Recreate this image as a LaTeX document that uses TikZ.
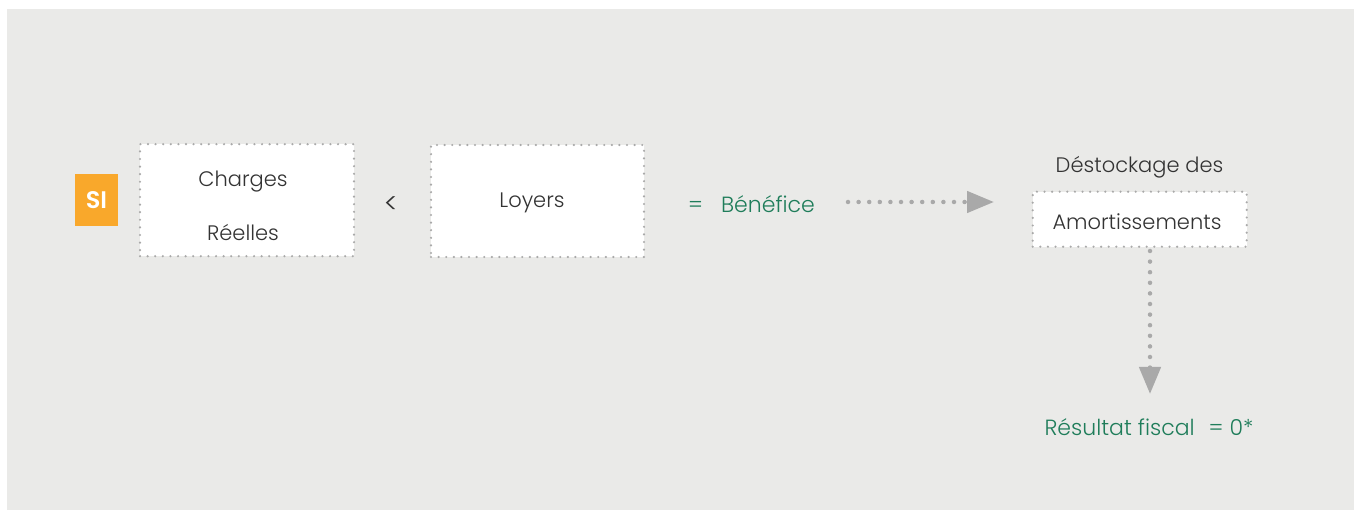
\documentclass[tikz,border=0pt]{standalone}
\usepackage{fontspec}
\setmainfont{Poppins Light}
\usetikzlibrary{arrows.meta}
\definecolor{bgc}{HTML}{EAEAE8}
\definecolor{dotc}{HTML}{A9A9A9}
\definecolor{txtc}{HTML}{333333}
\definecolor{grn}{HTML}{1F7D5A}
\definecolor{org}{HTML}{F9A82B}
\tikzset{
  dotbox/.style={draw=dotc, fill=white, line width=2.4pt, line cap=round,
    dash pattern=on 0pt off 7.6pt, inner sep=0pt},
  txt/.style={text=txtc, font=\fontsize{21}{24}\selectfont, inner sep=0pt},
  gtxt/.style={text=grn, font=\fontsize{22}{25}\selectfont, inner sep=0pt},
  dotarrow/.style={draw=dotc, line width=4.5pt, line cap=round,
    dash pattern=on 0pt off 10.6pt,
    -{Triangle[length=27pt,width=21pt,line cap=butt,fill=dotc,sep=0pt]}},
}
\begin{document}
\begin{tikzpicture}[x=1pt,y=-1pt]
\useasboundingbox (0,0) rectangle (1357,510);
\fill[white] (0,0) rectangle (1357,510);
\fill[bgc] (7,9) rectangle (1354,510);
% SI
\node[fill=org, minimum width=43pt, minimum height=52pt, inner sep=0pt,
  text=white, font=\fontsize{24}{26}\selectfont\bfseries] (si) at (96.5,200) {SI};
% boxes
\node[dotbox, minimum width=214pt, minimum height=112pt] (charges) at (247,200.2) {};
\node[txt, anchor=base] (chg1) at (243,187) {Charges};
\node[txt, anchor=base] (chg2) at (243,241) {Réelles};
\node[txt, font=\fontsize{28}{30}\selectfont] (lt) at (391,205) {<};
\node[dotbox, minimum width=213pt, minimum height=112pt] (loyers) at (537.5,201) {};
\node[txt, anchor=base] (loy) at (532,208) {Loyers};
\node[gtxt, anchor=base west] (benef) at (688,213) {=\hspace{18pt}Bénéfice};
\node[txt, anchor=base] (dest) at (1139.5,173) {Déstockage des};
\node[dotbox, minimum width=214pt, minimum height=55pt] (amort) at (1139.7,219.2) {};
\node[txt, anchor=base] (amt) at (1137,230) {Amortissements};
\node[gtxt, anchor=base] (res) at (1149,435) {Résultat fiscal\hspace{14pt}= 0*};
% arrows
\coordinate (h1) at (848,202);
\coordinate (h2) at (994,202);
\coordinate (v1) at (1150,251);
\coordinate (v2) at (1150,394);
\draw[dotarrow] (h1) -- (h2);
\draw[dotarrow] (v1) -- (v2);
\end{tikzpicture}
\end{document}
